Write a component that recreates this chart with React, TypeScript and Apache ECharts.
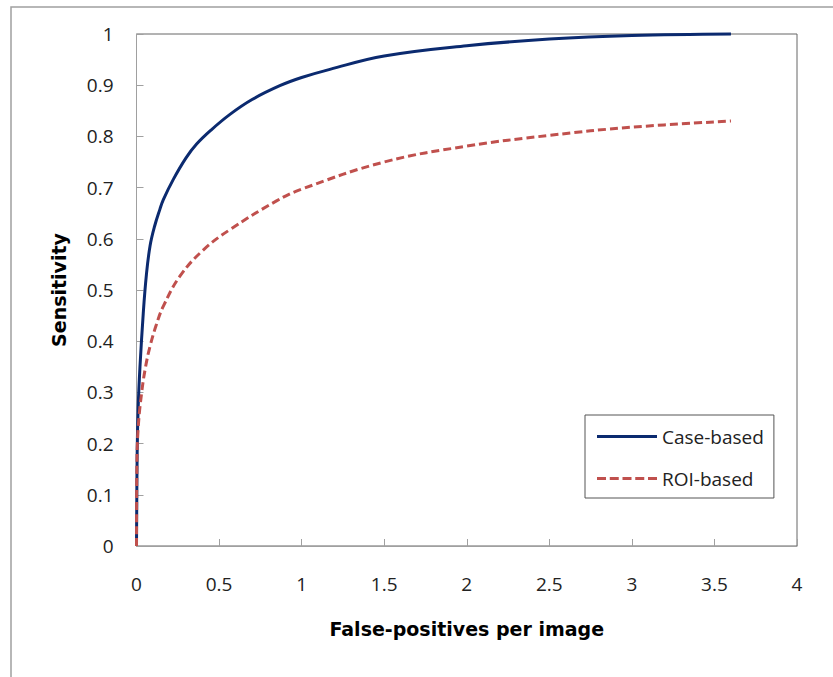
import React, { useEffect, useRef } from "react";
import * as echarts from "echarts";

const caseBased: [number, number][] = [
  [0, 0], [0.004, 0.18], [0.01, 0.27], [0.021, 0.35], [0.041, 0.455], [0.06, 0.53],
  [0.082, 0.586], [0.11, 0.625], [0.142, 0.658], [0.162, 0.676], [0.223, 0.716],
  [0.3, 0.758], [0.364, 0.785], [0.45, 0.812], [0.566, 0.843], [0.7, 0.872],
  [0.868, 0.899], [1, 0.915], [1.171, 0.931], [1.5, 0.957], [2, 0.977],
  [2.5, 0.99], [3, 0.997], [3.6, 1.0],
];

const roiBased: [number, number][] = [
  [0, 0], [0.002, 0.15], [0.01, 0.23], [0.031, 0.299], [0.055, 0.35], [0.082, 0.39],
  [0.12, 0.432], [0.162, 0.468], [0.263, 0.527], [0.404, 0.578], [0.566, 0.618],
  [0.848, 0.674], [1, 0.697], [1.5, 0.75], [2, 0.781], [2.5, 0.802], [3, 0.818],
  [3.6, 0.83],
];

const seriesNames = ["Case-based", "ROI-based"];
const xTitle = "False-positives per image";
const yTitle = "Sensitivity";

const dashedIcon =
  "path://M0,0h9v3h-9z M12.75,0h9v3h-9z M25.5,0h9v3h-9z M38.25,0h9v3h-9z M51,0h9v3h-9z";

export default function App() {
  const ref = useRef<HTMLDivElement>(null);
  useEffect(() => {
    if (!ref.current) return;
    const chart = echarts.init(ref.current, null, { renderer: "svg" });
    const tickFont = { fontFamily: "Open Sans", fontSize: 19, color: "#222" };
    chart.setOption({
      animation: false,
      backgroundColor: "#fff",
      graphic: [
        {
          type: "rect",
          shape: { x: 11, y: 7, width: 900, height: 800 },
          style: { fill: "none", stroke: "#a0a0a0", lineWidth: 1.5 },
          silent: true,
        },
      ],
      grid: {
        left: 136.5,
        top: 34,
        right: 36,
        bottom: 131,
        show: true,
        borderColor: "#666",
        borderWidth: 1,
        backgroundColor: "transparent",
      },
      legend: {
        orient: "vertical",
        left: 585,
        top: 415,
        padding: [12, 10, 10, 12],
        itemGap: 23,
        itemWidth: 60,
        itemHeight: 3,
        itemTextGap: 5,
        borderColor: "#555",
        borderWidth: 1,
        backgroundColor: "#fff",
        textStyle: { fontFamily: "Open Sans", fontSize: 19, color: "#222" },
        data: [
          { name: seriesNames[0], icon: "rect", itemStyle: { color: "#0B2A6F" } },
          { name: seriesNames[1], icon: dashedIcon, itemStyle: { color: "#C0504D" } },
        ],
      },
      xAxis: {
        type: "value",
        min: 0,
        max: 4,
        interval: 0.5,
        name: xTitle,
        nameLocation: "middle",
        nameGap: 73,
        nameTextStyle: { fontFamily: "DejaVu Sans", fontWeight: "bold", fontSize: 19, color: "#000" },
        axisLine: { show: true, lineStyle: { color: "#a0a0a0", width: 1 } },
        axisTick: { show: true, inside: true, length: 7, lineStyle: { color: "#a0a0a0" } },
        axisLabel: { ...tickFont, margin: 28, formatter: (v: number) => String(Number(v.toFixed(1))) },
        splitLine: { show: false },
      },
      yAxis: {
        type: "value",
        min: 0,
        max: 1,
        interval: 0.1,
        name: yTitle,
        nameLocation: "middle",
        nameRotate: 90,
        nameGap: 68,
        nameTextStyle: { fontFamily: "DejaVu Sans", fontWeight: "bold", fontSize: 19, color: "#000" },
        axisLine: { show: true, lineStyle: { color: "#a0a0a0", width: 1 } },
        axisTick: { show: true, inside: true, length: 7, lineStyle: { color: "#a0a0a0" } },
        axisLabel: { ...tickFont, margin: 23, formatter: (v: number) => String(Number(v.toFixed(1))) },
        splitLine: { show: false },
      },
      series: [
        {
          name: seriesNames[0],
          type: "line",
          data: caseBased,
          showSymbol: false,
          symbol: "none",
          smooth: 0.4,
          clip: false,
          lineStyle: { color: "#0B2A6F", width: 3 },
          itemStyle: { color: "#0B2A6F" },
        },
        {
          name: seriesNames[1],
          type: "line",
          data: roiBased,
          showSymbol: false,
          symbol: "none",
          smooth: 0.4,
          clip: false,
          lineStyle: { color: "#C0504D", width: 3, type: [8, 4] },
          itemStyle: { color: "#C0504D" },
        },
      ],
    });
    return () => chart.dispose();
  }, []);
  return (
    <div
      ref={ref}
      style={{ position: "fixed", left: 0, top: 0, width: 833, height: 677 }}
    />
  );
}
